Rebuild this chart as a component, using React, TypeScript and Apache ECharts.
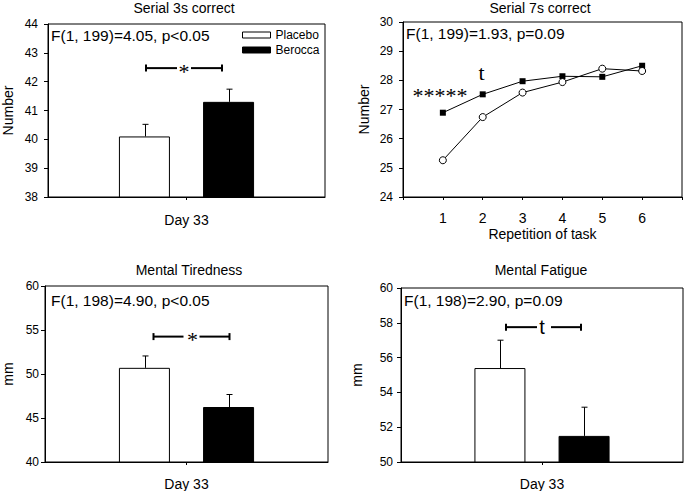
import React, { useEffect, useRef } from "react";
import * as echarts from "echarts";

// ---------- data ----------
const groups = ["Placebo", "Berocca"];
const dayCategory = ["Day 33"];

// Serial 3s correct
const serial3sMeans = [40.1, 41.3];
const serial3sSem = [0.42, 0.44];
const serial3sRange = [38, 44, 1];
const serial3sStat = "F(1, 199)=4.05, p<0.05";
const serial3sBracket = [42.47];

// Serial 7s correct
const repetitions = [1, 2, 3, 4, 5, 6];
const serial7sPlacebo = [25.26, 26.74, 27.58, 27.94, 28.4, 28.32];
const serial7sBerocca = [26.89, 27.52, 27.97, 28.14, 28.12, 28.5];
const serial7sRange = [24, 30, 1];
const serial7sStat = "F(1, 199)=1.93, p=0.09";
const serial7sMarkX = [0.93, 1.97];
const serial7sMarkY = [27.51, 28.24];
const serial7sMarkText = ["*****", "t"];

// Mental Tiredness
const tirednessMeans = [50.7, 46.25];
const tirednessSem = [1.35, 1.42];
const tirednessRange = [40, 60, 5];
const tirednessStat = "F(1, 198)=4.90, p<0.05";
const tirednessBracket = [54.25];

// Mental Fatigue
const fatigueMeans = [55.4, 51.5];
const fatigueSem = [1.6, 1.65];
const fatigueRange = [50, 60, 2];
const fatigueStat = "F(1, 198)=2.90, p=0.09";
const fatigueBracket = [57.75];

// ---------- styling ----------
const FONT = '"Liberation Sans", Arial, Helvetica, sans-serif';
const SERIF = '"Liberation Serif", "Times New Roman", serif';
const BAR_W = 51;
const BAR_OFFSET = 42;

const GRIDS = [
  { left: 48, top: 24, width: 277, height: 173 },
  { left: 403, top: 22, width: 280, height: 175 },
  { left: 44, top: 286, width: 284, height: 176 },
  { left: 401, top: 288, width: 282, height: 174 },
];

function txt(text: string, size: number, family: string, align: string) {
  return {
    text,
    fill: "#000",
    font: `${size}px ${family}`,
    fontSize: size,
    fontFamily: family,
    align,
    textAlign: align,
    verticalAlign: "middle",
    textVerticalAlign: "middle",
  };
}

function yAxis(gridIndex: number, range: number[], name: string, nameGap: number, margin: number) {
  return {
    gridIndex,
    type: "value",
    min: range[0],
    max: range[1],
    interval: range[2],
    name,
    nameLocation: "middle",
    nameGap,
    nameRotate: 90,
    nameTextStyle: { fontSize: 14, color: "#000", fontFamily: FONT },
    axisLine: { show: true, lineStyle: { color: "#000", width: 1 } },
    axisTick: { show: true, length: 4, lineStyle: { color: "#000" } },
    axisLabel: { fontSize: 12, color: "#000", margin, fontFamily: FONT },
    splitLine: { show: false },
  };
}

function catAxis(gridIndex: number, margin: number) {
  return {
    gridIndex,
    type: "category",
    data: dayCategory,
    axisLine: { show: true, lineStyle: { color: "#000", width: 1 } },
    axisTick: { show: true, alignWithLabel: true, length: 3, lineStyle: { color: "#000" } },
    axisLabel: { fontSize: 14, color: "#000", margin, fontFamily: FONT },
    splitLine: { show: false },
  };
}

function barSeries(gridIndex: number, means: number[]) {
  return groups.map((g, i) => ({
    type: "bar",
    name: g,
    xAxisIndex: gridIndex,
    yAxisIndex: gridIndex,
    data: [means[i]],
    barWidth: BAR_W,
    barGap: "65%",
    itemStyle:
      i === 0
        ? { color: "#fff", borderColor: "#000", borderWidth: 1 }
        : { color: "#000", borderColor: "#000", borderWidth: 1 },
    z: 2,
  }));
}

function errorSeries(gridIndex: number, means: number[], sems: number[]) {
  return {
    type: "custom",
    xAxisIndex: gridIndex,
    yAxisIndex: gridIndex,
    z: 5,
    clip: false,
    data: means.map((m, i) => [0, m, sems[i], i]),
    encode: { x: 0, y: 1 },
    renderItem: (params: any, api: any) => {
      const g = api.value(3);
      const base = api.coord([api.value(0), api.value(1)]);
      const top = api.coord([api.value(0), api.value(1) + api.value(2)]);
      const x = Math.round(base[0] + (g === 0 ? -BAR_OFFSET : BAR_OFFSET)) + 0.5;
      return {
        type: "group",
        children: [
          { type: "line", shape: { x1: x, y1: base[1], x2: x, y2: top[1] }, style: { stroke: "#000", lineWidth: 1 } },
          { type: "line", shape: { x1: x - 3, y1: top[1], x2: x + 3, y2: top[1] }, style: { stroke: "#000", lineWidth: 1 } },
        ],
      };
    },
  };
}

function bracketSeries(gridIndex: number, level: number[], cfg: any) {
  return {
    type: "custom",
    xAxisIndex: gridIndex,
    yAxisIndex: gridIndex,
    z: 6,
    clip: false,
    data: level.map((v) => [0, v]),
    encode: { x: 0, y: 1 },
    renderItem: (params: any, api: any) => {
      const p = api.coord([api.value(0), api.value(1)]);
      const cx = p[0];
      const y = p[1];
      const L = cx + cfg.left;
      const R = cx + cfg.right;
      const C = cx + cfg.center;
      const st = { stroke: "#000", lineWidth: 2 };
      return {
        type: "group",
        children: [
          { type: "line", shape: { x1: L, y1: y, x2: C - cfg.gapL, y2: y }, style: st },
          { type: "line", shape: { x1: C + cfg.gapR, y1: y, x2: R, y2: y }, style: st },
          { type: "line", shape: { x1: L, y1: y - 3.5, x2: L, y2: y + 3.5 }, style: st },
          { type: "line", shape: { x1: R, y1: y - 3.5, x2: R, y2: y + 3.5 }, style: st },
        ],
      };
    },
  };
}

// text placed at data coordinates through a label-only scatter series
function labelSeries(gridIndex: number, points: number[][], texts: string[], cfg: any) {
  return {
    type: "scatter",
    xAxisIndex: gridIndex,
    yAxisIndex: gridIndex,
    z: 7,
    silent: true,
    symbol: "circle",
    symbolSize: 1,
    itemStyle: { color: "rgba(255,255,255,0)", opacity: 1 },
    emphasis: { disabled: true },
    data: points.map((p, i) => ({
      value: p,
      label: {
        show: true,
        position: "inside",
        formatter: texts[i],
        color: "#000",
        opacity: 1,
        textBorderWidth: 0,
        fontFamily: cfg.families[i],
        fontSize: cfg.sizes[i],
        offset: cfg.offsets[i],
      },
    })),
  };
}

export default function App() {
  const ref = useRef<HTMLDivElement>(null);
  useEffect(() => {
    if (!ref.current) return;
    const chart = echarts.init(ref.current, undefined, { renderer: "svg" });

    const option: any = {
      animation: false,
      backgroundColor: "#fff",
      textStyle: { fontFamily: FONT, color: "#000" },
      grid: GRIDS.map((g) => ({ ...g, show: true, borderColor: "#000", borderWidth: 1, backgroundColor: "transparent" })),
      legend: {
        left: 237,
        top: 23,
        orient: "vertical",
        itemWidth: 28,
        itemHeight: 6,
        itemGap: 1,
        selectedMode: false,
        textStyle: { fontSize: 12, color: "#000", fontFamily: FONT, lineHeight: 14 },
        data: [
          { name: groups[0], icon: "rect", itemStyle: { color: "#fff", borderColor: "#000", borderWidth: 1 } },
          { name: groups[1], icon: "rect", itemStyle: { color: "#000", borderColor: "#000", borderWidth: 1 } },
        ],
      },
      xAxis: [
        catAxis(0, 16),
        {
          gridIndex: 1,
          type: "value",
          min: 0,
          max: 7,
          interval: 1,
          name: "Repetition of task",
          nameLocation: "middle",
          nameGap: 30,
          nameTextStyle: { fontSize: 14, color: "#000", fontFamily: FONT },
          axisLine: { show: true, lineStyle: { color: "#000", width: 1 } },
          axisTick: { show: true, length: 3, lineStyle: { color: "#000" } },
          axisLabel: {
            fontSize: 14,
            color: "#000",
            margin: 14,
            fontFamily: FONT,
            formatter: (v: number) => (repetitions.indexOf(v) >= 0 ? String(v) : ""),
          },
          splitLine: { show: false },
        },
        catAxis(2, 15),
        catAxis(3, 15),
      ],
      yAxis: [
        yAxis(0, serial3sRange, "Number", 33, 10),
        yAxis(1, serial7sRange, "Number", 32, 10),
        yAxis(2, tirednessRange, "mm", 30, 6),
        yAxis(3, fatigueRange, "mm", 37, 8),
      ],
      series: [
        ...barSeries(0, serial3sMeans),
        errorSeries(0, serial3sMeans, serial3sSem),
        bracketSeries(0, serial3sBracket, { left: -40.5, right: 35.5, center: -2.5, gapL: 7, gapR: 7 }),
        labelSeries(0, [[0, serial3sBracket[0]]], ["*"], { families: [SERIF], sizes: [22], offsets: [[-2.5, 3]] }),
        ...barSeries(2, tirednessMeans),
        errorSeries(2, tirednessMeans, tirednessSem),
        bracketSeries(2, tirednessBracket, { left: -33, right: 43, center: 6, gapL: 9, gapR: 7 }),
        labelSeries(2, [[0, tirednessBracket[0]]], ["*"], { families: [SERIF], sizes: [22], offsets: [[6, 3]] }),
        ...barSeries(3, fatigueMeans),
        errorSeries(3, fatigueMeans, fatigueSem),
        bracketSeries(3, fatigueBracket, { left: -36, right: 39, center: 0, gapL: 5, gapR: 9 }),
        labelSeries(3, [[0, fatigueBracket[0]]], ["t"], { families: [FONT], sizes: [20], offsets: [[0, 0]] }),
        {
          type: "line",
          name: groups[1],
          xAxisIndex: 1,
          yAxisIndex: 1,
          data: repetitions.map((r, i) => [r, serial7sBerocca[i]]),
          symbol: "rect",
          symbolSize: 6,
          lineStyle: { color: "#000", width: 1 },
          itemStyle: { color: "#000" },
          z: 3,
        },
        {
          type: "line",
          name: groups[0],
          xAxisIndex: 1,
          yAxisIndex: 1,
          data: repetitions.map((r, i) => [r, serial7sPlacebo[i]]),
          symbol: "circle",
          symbolSize: 7,
          showAllSymbol: true,
          lineStyle: { color: "#000", width: 1 },
          itemStyle: { color: "#fff", borderColor: "#000", borderWidth: 1 },
          z: 4,
        },
        labelSeries(
          1,
          serial7sMarkX.map((x, i) => [x, serial7sMarkY[i]]),
          serial7sMarkText,
          { families: [SERIF, SERIF], sizes: [22, 22], offsets: [[0, 1], [0, -1]] }
        ),
      ],
      graphic: [
        { type: "text", x: 184, y: 8, style: txt("Serial 3s correct", 14, FONT, "center") },
        { type: "text", x: 540, y: 8, style: txt("Serial 7s correct", 14, FONT, "center") },
        { type: "text", x: 189, y: 270, style: txt("Mental Tiredness", 14, FONT, "center") },
        { type: "text", x: 541, y: 270, style: txt("Mental Fatigue", 14, FONT, "center") },
        { type: "text", x: 51, y: 35, style: txt(serial3sStat, 15.5, FONT, "left") },
        { type: "text", x: 406, y: 33, style: txt(serial7sStat, 15.5, FONT, "left") },
        { type: "text", x: 51, y: 300, style: txt(tirednessStat, 15.5, FONT, "left") },
        { type: "text", x: 404, y: 300, style: txt(fatigueStat, 15.5, FONT, "left") },
      ],
    };

    chart.setOption(option);
    return () => chart.dispose();
  }, []);

  return (
    <div
      ref={ref}
      style={{ position: "absolute", left: 0, top: 0, width: 685, height: 491, background: "#fff" }}
    />
  );
}
